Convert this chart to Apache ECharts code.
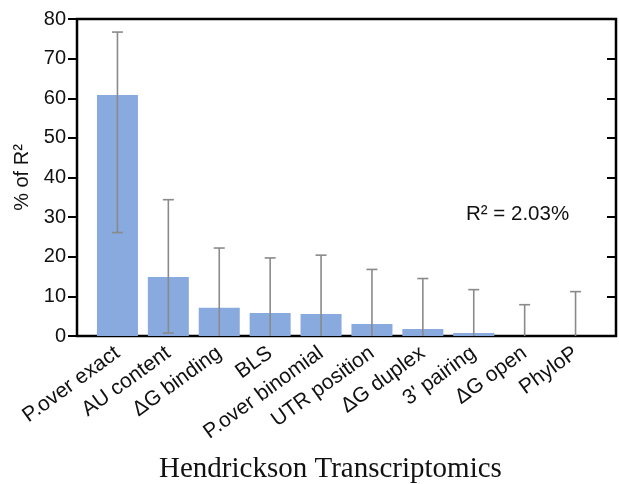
<!DOCTYPE html>
<html>
<head>
<meta charset="utf-8">
<script src="https://cdn.jsdelivr.net/npm/echarts@6/dist/echarts.min.js"></script>
<style>
  html, body { margin: 0; padding: 0; background: #fff; }
  #chart { width: 619px; height: 484px; }
</style>
</head>
<body>
<div id="chart"></div>
<script>
// Share of R² explained by each predictor, with bootstrap interval bounds
const categories = ['P.over exact', 'AU content', '\u0394G binding', 'BLS', 'P.over binomial',
                    'UTR position', '\u0394G duplex', "3' pairing", '\u0394G open', 'PhyloP'];
const shareValues = [60.8, 14.9, 7.15, 5.8, 5.55, 3.03, 1.77, 0.76, 0, 0];
const upperBounds = [76.7, 34.4, 22.2, 19.7, 20.4, 16.8, 14.5, 11.7, 7.9, 11.2];
const lowerBounds = [26.1, 0.75, 0, 0, 0, 0, 0, 0, 0, 0];
const yTicks = [0, 10, 20, 30, 40, 50, 60, 70, 80];
const totalR2Label = 'R\u00b2 = 2.03%';
const xTitle = 'Hendrickson Transcriptomics';

const chart = echarts.init(document.getElementById('chart'), null, { renderer: 'canvas' });

const sans = 'Liberation Sans';
const yMin = yTicks[0], yMax = yTicks[yTicks.length - 1];

const errorData = categories.map((c, i) => [i, lowerBounds[i], upperBounds[i]]);

chart.setOption({
  animation: false,
  title: [
    {
      text: xTitle,
      left: 154, top: 450,
      textStyle: { fontFamily: 'Liberation Serif', fontSize: 29, fontWeight: 'normal', color: '#111' }
    },
    {
      text: totalR2Label,
      left: 461, top: 199,
      textStyle: { fontFamily: sans, fontSize: 20.5, fontWeight: 'normal', color: '#111' }
    }
  ],
  grid: [
    { left: 77, right: 3, top: 19, bottom: 148, show: true, borderColor: '#000', borderWidth: 2.5, backgroundColor: 'transparent' },
    { left: 92, right: 18, top: 19, bottom: 148 }
  ],
  xAxis: [
    { gridIndex: 0, type: 'value', min: 0, max: 1, show: false },
    {
      gridIndex: 1, type: 'category', data: categories,
      axisLine: { show: false }, axisTick: { show: false },
      axisLabel: { rotate: 36, margin: 15, fontFamily: sans, fontSize: 21, color: '#111', interval: 0 }
    }
  ],
  yAxis: [
    {
      gridIndex: 0, type: 'value', min: yMin, max: yMax, interval: 10, position: 'left',
      name: '% of R\u00b2', nameLocation: 'middle', nameGap: 44, nameRotate: 90,
      nameTextStyle: { fontFamily: sans, fontSize: 20, color: '#111' },
      axisLine: { show: false },
      axisTick: { show: true, length: 9, lineStyle: { color: '#000', width: 2 } },
      axisLabel: { fontFamily: sans, fontSize: 20, color: '#111', margin: 11 },
      splitLine: { show: false }
    },
    {
      gridIndex: 0, type: 'value', min: yMin, max: yMax, interval: 10, position: 'right',
      axisLine: { show: false },
      axisTick: { show: true, inside: true, length: 9, lineStyle: { color: '#000', width: 2 } },
      axisLabel: { show: false },
      splitLine: { show: false }
    },
    { gridIndex: 1, type: 'value', min: yMin, max: yMax, show: false, splitLine: { show: false } }
  ],
  series: [
    {
      type: 'bar', xAxisIndex: 1, yAxisIndex: 2,
      data: shareValues, barWidth: 41,
      itemStyle: { color: '#88aadf' }, z: 2
    },
    {
      type: 'custom', xAxisIndex: 1, yAxisIndex: 2, z: 3,
      data: errorData,
      renderItem: function (params, api) {
        const idx = api.value(0);
        const lo = api.value(1), hi = api.value(2);
        const top = api.coord([idx, hi]);
        const bot = api.coord([idx, lo]);
        const capHalf = 5.5;
        const style = { stroke: '#8a8a8a', lineWidth: 1.6 };
        const children = [
          { type: 'line', shape: { x1: top[0], y1: top[1], x2: bot[0], y2: bot[1] }, style: style },
          { type: 'line', shape: { x1: top[0] - capHalf, y1: top[1], x2: top[0] + capHalf, y2: top[1] }, style: style }
        ];
        if (lo > 0) {
          children.push({ type: 'line', shape: { x1: bot[0] - capHalf, y1: bot[1], x2: bot[0] + capHalf, y2: bot[1] }, style: style });
        }
        return { type: 'group', children: children };
      }
    }
  ]
});
</script>
</body>
</html>
